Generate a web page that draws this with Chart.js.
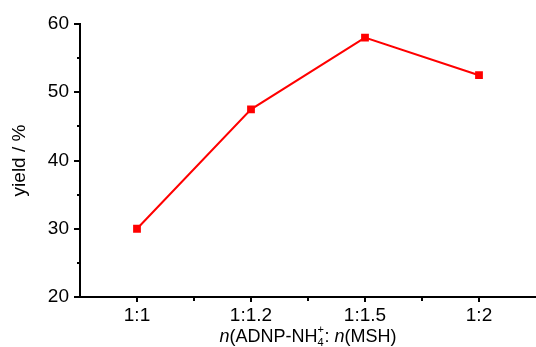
<!DOCTYPE html>
<html>
<head>
<meta charset="utf-8">
<script src="https://cdn.jsdelivr.net/npm/chart.js@4/dist/chart.umd.min.js"></script>
<style>
  html, body { margin: 0; padding: 0; background: #fff; }
  #wrap { width: 536px; height: 347px; position: relative; }
</style>
</head>
<body>
<div id="wrap"><canvas id="chart"></canvas></div>
<script>
// --- Data ---
const ratios = ['1:1', '1:1.2', '1:1.5', '1:2'];
const yieldValues = [30, 47.5, 58, 52.5];
const yTicks = [20, 30, 40, 50, 60];
const yMinorTicks = [25, 35, 45, 55];

const FONT = "'Liberation Sans', Arial, sans-serif";

// --- Minor ticks + x-axis title with sub/superscript ---
const extrasPlugin = {
    id: 'extras',
    afterDraw(chart) {
        const ctx = chart.ctx;
        const x = chart.scales.x;
        const y = chart.scales.y;
        ctx.save();
        ctx.strokeStyle = '#000';
        ctx.lineWidth = 2;

        // minor y ticks
        yMinorTicks.forEach(v => {
            const py = Math.round(y.getPixelForValue(v));
            ctx.beginPath();
            ctx.moveTo(x.left - 3, py);
            ctx.lineTo(x.left, py);
            ctx.stroke();
        });
        // minor x ticks (between categories)
        for (let i = 0; i < ratios.length - 1; i++) {
            const px = Math.round((x.getPixelForValue(i) + x.getPixelForValue(i + 1)) / 2);
            ctx.beginPath();
            ctx.moveTo(px, y.bottom);
            ctx.lineTo(px, y.bottom + 4);
            ctx.stroke();
        }

        // x-axis title: n(ADNP-NH4+: n(MSH)
        const size = 18;
        const small = 11;
        const parts = [
            { t: 'n', f: `italic ${size}px ${FONT}` },
            { t: '(ADNP-NH', f: `${size}px ${FONT}` },
            { t: '4', f: `${small}px ${FONT}`, sub: true, sup: '+' },
            { t: ': ', f: `${size}px ${FONT}` },
            { t: 'n', f: `italic ${size}px ${FONT}` },
            { t: '(MSH)', f: `${size}px ${FONT}` }
        ];
        let total = 0;
        parts.forEach(p => {
            ctx.font = p.f;
            p.w = ctx.measureText(p.t).width + (p.sub ? 1 : 0);
            total += p.w;
        });
        let cx = (chart.chartArea.left + chart.chartArea.right) / 2 - total / 2;
        const base = 342;
        ctx.fillStyle = '#000';
        ctx.textBaseline = 'alphabetic';
        ctx.textAlign = 'left';
        parts.forEach(p => {
            ctx.font = p.f;
            if (p.sub) {
                ctx.fillText(p.t, cx, base + 4);
                ctx.fillText(p.sup, cx, base - 9);
            } else {
                ctx.fillText(p.t, cx, base);
            }
            cx += p.w;
        });
        ctx.restore();
    }
};

new Chart(document.getElementById('chart'), {
    type: 'line',
    data: {
        labels: ratios,
        datasets: [{
            data: yieldValues,
            borderColor: '#ff0000',
            backgroundColor: '#ff0000',
            borderWidth: 2,
            pointStyle: 'rect',
            pointRadius: 5.5,
            pointBorderWidth: 0,
            tension: 0
        }]
    },
    options: {
        responsive: true,
        maintainAspectRatio: false,
        animation: false,
        layout: {
            autoPadding: false,
            padding: { top: 24, right: 0, left: 0, bottom: 0 }
        },
        plugins: {
            legend: { display: false },
            tooltip: { enabled: false }
        },
        scales: {
            x: {
                offset: true,
                grid: {
                    display: true,
                    drawOnChartArea: false,
                    offset: false,
                    color: '#000',
                    lineWidth: 2,
                    tickLength: 5
                },
                border: { display: true, color: '#000', width: 2 },
                ticks: {
                    color: '#000',
                    padding: 2,
                    font: { family: FONT, size: 19 }
                },
                afterFit(scale) {
                    scale.height = 50;
                    scale.paddingLeft = 0;
                    scale.paddingRight = 0;
                }
            },
            y: {
                min: 20,
                max: 60,
                afterBuildTicks(scale) { scale.ticks = yTicks.map(v => ({ value: v })); },
                grid: {
                    display: true,
                    drawOnChartArea: false,
                    color: '#000',
                    lineWidth: 2,
                    tickLength: 6
                },
                border: { display: true, color: '#000', width: 2 },
                ticks: {
                    color: '#000',
                    padding: 5,
                    font: { family: FONT, size: 19 }
                },
                title: {
                    display: true,
                    text: 'yield / %',
                    color: '#000',
                    padding: { top: 8, bottom: 0 },
                    font: { family: FONT, size: 19 }
                },
                afterFit(scale) { scale.width = 80; }
            }
        }
    },
    plugins: [extrasPlugin]
});
</script>
</body>
</html>
